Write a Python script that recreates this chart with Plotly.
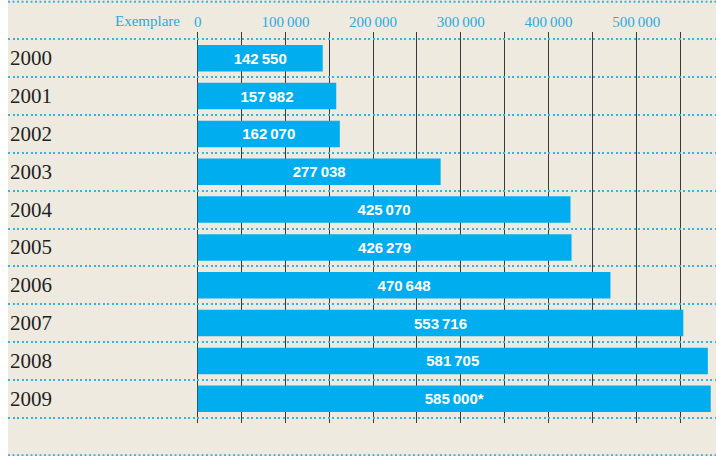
import plotly.graph_objects as go

years = ["2000", "2001", "2002", "2003", "2004", "2005", "2006", "2007", "2008", "2009"]
values = [142550, 157982, 162070, 277038, 425070, 426279, 470648, 553716, 581705, 585000]
notes = ["", "", "", "", "", "", "", "", "", "*"]
grid_vals = [0, 50000, 100000, 150000, 200000, 250000, 300000, 350000, 400000, 450000, 500000, 550000]
grid_text = ["0", "", "100\u2009000", "", "200\u2009000", "", "300\u2009000", "", "400\u2009000", "", "500\u2009000", ""]
axis_title = "Exemplare"

# page: body keeps its 8px left margin (white strip), top margin removed
OFF_X = 8
W, H = 716 - OFF_X, 456
ML, MR, MT, MB = 0, 0, 32, 33
PW, PH = W - ML - MR, H - MT - MB

BLUE = "#00AEEF"
DOT = "#2fb4e6"
BG = "#EEEAE0"
SERIF = "Liberation Serif, DejaVu Serif, serif"


def fmt(v):
    return f"{v:,}".replace(",", "\u2009")


labels = [fmt(v) + n for v, n in zip(values, notes)]
ypos = list(range(len(years)))

fig = go.Figure()
fig.add_trace(go.Bar(
    x=values, y=ypos, orientation="h", width=0.7,
    marker=dict(color=BLUE, line=dict(width=0)),
    text=labels, textposition="inside", insidetextanchor="middle",
    constraintext="none",
    textfont=dict(family="Liberation Sans, Arial, sans-serif", size=15, color="white", weight="bold"),
    hoverinfo="skip",
))

for i, y in enumerate(years):
    fig.add_annotation(x=0, y=i, xref="paper", yref="y", text=y, showarrow=False,
                       xanchor="left", yanchor="middle", xshift=0,
                       font=dict(family=SERIF, size=21, color="#231f20"))

fig.add_annotation(x=(182 - OFF_X - ML) / PW, y=(PH + MT - 20.7) / PH, xref="paper", yref="paper",
                   text=axis_title, showarrow=False, xanchor="right", yanchor="middle",
                   font=dict(family=SERIF, size=15, color="#29abe2"))

for ypx in (1.7, 455.3):
    yp = (H - MB - ypx) / PH
    fig.add_shape(type="line", xref="paper", yref="paper", x0=0, x1=1, y0=yp, y1=yp,
                  line=dict(color=DOT, width=2, dash="2px,2.5px"))

px_per = 0.000877
zero_px = 197.7 - OFF_X
x0v = -(zero_px - ML) / px_per
x1v = (W - zero_px) / px_per

y_top = (MT - 39.3) / 37.84 - 0.5
y_bot = (H - MB - 39.3) / 37.84 - 0.5

fig.update_layout(
    width=W, height=H,
    margin=dict(l=ML, r=MR, t=MT, b=MB, pad=0),
    paper_bgcolor=BG, plot_bgcolor=BG,
    showlegend=False,
    bargap=0.3,
    xaxis=dict(range=[x0v, x1v], side="top", tickmode="array", tickvals=grid_vals, ticktext=grid_text,
               showgrid=True, gridcolor="#3a3a3a", gridwidth=1.4, zeroline=False, showline=False,
               ticks="", ticklabelstandoff=1,
               tickfont=dict(family=SERIF, size=15, color="#29abe2"), fixedrange=True),
    yaxis=dict(range=[y_bot, y_top], tickmode="array",
               tickvals=[i - 0.5 for i in range(len(years) + 1)],
               showticklabels=False, showgrid=True, gridcolor=DOT, gridwidth=2,
               griddash="2px,2.5px", zeroline=False, showline=False, ticks="", fixedrange=True),
)

fig.write_html("out.html", config={"displayModeBar": False},
               post_script="document.body.style.margin='0 0 0 8px';")
